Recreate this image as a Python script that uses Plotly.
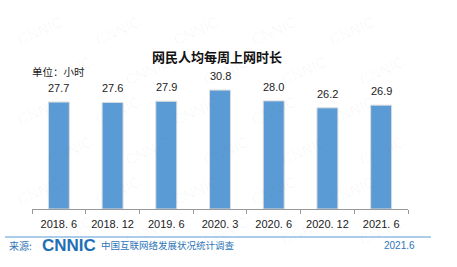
import plotly.graph_objects as go

categories = ["2018. 6", "2018. 12", "2019. 6", "2020. 3", "2020. 6", "2020. 12", "2021. 6"]
hours = [27.7, 27.6, 27.9, 30.8, 28.0, 26.2, 26.9]
title_text = "网民人均每周上网时长"
unit_text = "单位：小时"

W, H = 457, 267
L, R, T, B = 32, 49, 70, 58
PW, PH = W - L - R, H - T - B

def px(x):
    return (x - L) / PW

def py(y):
    return (H - B - y) / PH

CJK = "Noto Sans CJK SC"
LAT = "Liberation Sans"

fig = go.Figure()
fig.add_trace(go.Bar(
    x=categories, y=hours,
    marker=dict(color="#5b9bd5", line=dict(color="#dcdcdc", width=1)),
    hoverinfo="skip",
))

ann = []
# faint watermark
for row in range(6):
    for col in range(6):
        xx = 40 + col * 78 + (row % 2) * 30
        yy = 30 + row * 40
        if xx > 425:
            continue
        ann.append(dict(xref="paper", yref="paper", x=px(xx), y=py(yy), text="CNNIC",
                        showarrow=False, textangle=-25, xanchor="center", yanchor="middle",
                        font=dict(family=LAT, size=15, color="rgba(0,0,0,0.035)")))

for c, v in zip(categories, hours):
    ann.append(dict(x=c, y=v, text=f"{v:.1f}", showarrow=False, yanchor="bottom", yshift=6,
                    font=dict(family=LAT, size=11, color="#222")))

def txt(x, y, text, xanchor, font):
    return dict(xref="paper", yref="paper", x=px(x), y=py(y), text=text, showarrow=False,
                xanchor=xanchor, yanchor="middle", font=font)

ann += [
    txt(217, 57, f"<b>{title_text}</b>", "center", dict(family=CJK, size=13, color="#111")),
    txt(30, 71, unit_text, "left", dict(family=CJK, size=10.5, color="#222")),
    txt(7, 245, "来源:", "left", dict(family=CJK, size=10, color="#2e75b6")),
    txt(40, 245, "<b>CNNIC</b>", "left", dict(family=LAT, size=17, color="#1f6fb5")),
    txt(99, 245, "中国互联网络发展状况统计调查", "left", dict(family=CJK, size=9.5, color="#2e75b6")),
    txt(417, 245, "2021.6", "right", dict(family=LAT, size=10, color="#2e75b6")),
]

fig.add_shape(type="line", xref="paper", yref="paper", x0=px(5), x1=px(431), y0=py(237), y1=py(237),
              line=dict(color="#5b9bd5", width=1.2))

fig.update_layout(
    width=W, height=H, margin=dict(l=L, r=R, t=T, b=B),
    paper_bgcolor="white", plot_bgcolor="white",
    bargap=0.61, showlegend=False, annotations=ann,
    xaxis=dict(type="category", tickson="boundaries", ticks="outside", ticklen=4, tickcolor="#999",
               showline=True, linecolor="#999", linewidth=1, showgrid=False, ticklabelstandoff=5,
               tickfont=dict(family=LAT, size=11, color="#222")),
    yaxis=dict(range=[0, 36], visible=False, showgrid=False),
)
fig.write_html("out.html")
